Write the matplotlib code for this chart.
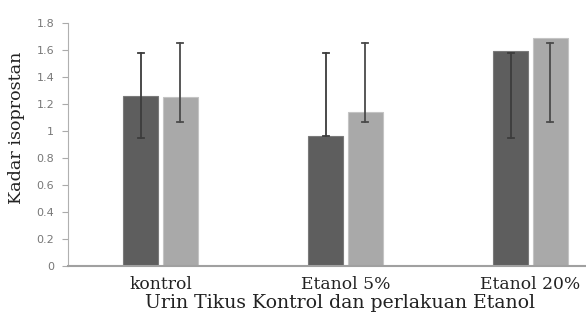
import numpy as np
import matplotlib
matplotlib.use("Agg")
import matplotlib.pyplot as plt

categories = ["kontrol", "Etanol 5%", "Etanol 20%"]
dark_vals = [1.26, 0.96, 1.59]
light_vals = [1.25, 1.14, 1.69]
# error bar ranges (low, high)
dark_low = [0.95, 0.96, 0.95]
dark_high = [1.58, 1.58, 1.58]
light_low = [1.07, 1.07, 1.07]
light_high = [1.65, 1.65, 1.65]

fig = plt.figure(figsize=(5.86, 3.15), dpi=100)
ax = fig.add_axes([68 / 586, 49 / 315, 555 / 586, 243 / 315])

x = np.arange(len(categories)) + 0.5
w = 0.19
off = 0.107

ax.bar(x - off, dark_vals, w, color="#5e5e5e", edgecolor="#7a7a7a", linewidth=0.8, zorder=2)
ax.bar(x + off, light_vals, w, color="#a9a9a9", edgecolor="#c4c4c4", linewidth=0.8, zorder=2)

for xi, lo, hi in zip(x - off, dark_low, dark_high):
    ax.plot([xi, xi], [lo, hi], color="#3c3c3c", lw=1.3, zorder=3)
    ax.plot([xi - 0.016, xi + 0.016], [hi, hi], color="#3c3c3c", lw=1.3, zorder=3)
    ax.plot([xi - 0.016, xi + 0.016], [lo, lo], color="#3c3c3c", lw=1.3, zorder=3)
for xi, lo, hi in zip(x + off, light_low, light_high):
    ax.plot([xi, xi], [lo, hi], color="#4a4a4a", lw=1.3, zorder=3)
    ax.plot([xi - 0.016, xi + 0.016], [hi, hi], color="#4a4a4a", lw=1.3, zorder=3)
    ax.plot([xi - 0.016, xi + 0.016], [lo, lo], color="#4a4a4a", lw=1.3, zorder=3)

ax.set_xlim(0, 3)
ax.set_ylim(0, 1.8)
ax.set_yticks(np.arange(0, 1.81, 0.2))
ax.set_yticklabels(["0", "0.2", "0.4", "0.6", "0.8", "1", "1.2", "1.4", "1.6", "1.8"],
                   fontsize=8, color="#777777", family="DejaVu Sans")
ax.set_xticks(x)
ax.set_xticklabels(categories, fontsize=12.3, family="DejaVu Serif", color="#222222")
ax.tick_params(axis="x", length=0, pad=7)
ax.tick_params(axis="y", length=4, color="#aaaaaa", pad=6)

for s in ["top", "right"]:
    ax.spines[s].set_visible(False)
ax.spines["left"].set_color("#b0b0b0")
ax.spines["bottom"].set_color("#a0a0a0")
ax.spines["bottom"].set_linewidth(1.5)

ax.set_ylabel("Kadar isoprostan", fontsize=12.6, family="DejaVu Serif", color="#222222")
ax.yaxis.set_label_coords(-0.077, 0.568)
fig.text(340 / 586, 1 - 303 / 315, "Urin Tikus Kontrol dan perlakuan Etanol", ha="center", va="center",
         fontsize=13.6, family="DejaVu Serif", color="#222222")

fig.savefig("out.png", dpi=100)
